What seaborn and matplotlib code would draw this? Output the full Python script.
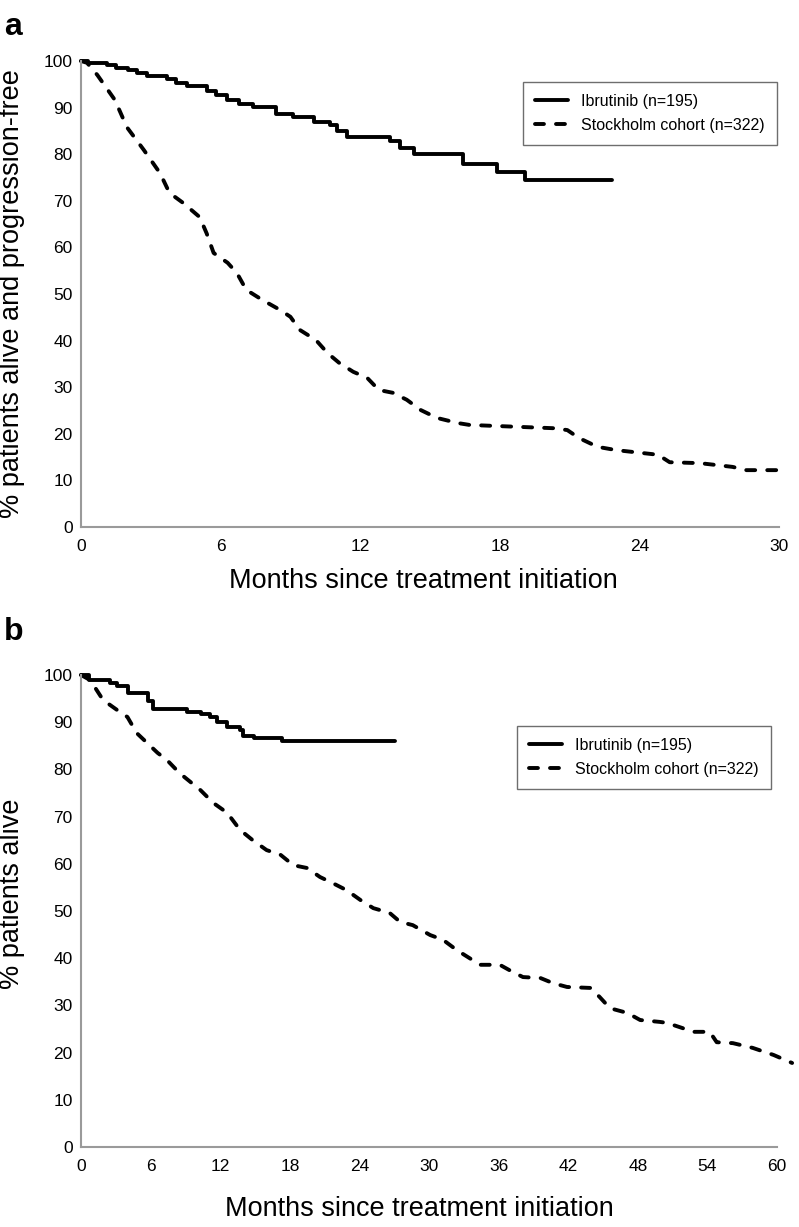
"""Kaplan-Meier style curves: ibrutinib vs Stockholm cohort (PFS and OS)."""

import matplotlib

matplotlib.use("Agg")
import matplotlib.pyplot as plt
import pandas as pd
import seaborn as sns

# panel a: progression-free survival (months, % patients)
IBR_A_T = [0, 0.32, 1.1, 1.5, 2.0, 2.4, 2.82, 3.68, 4.1, 4.54, 5.4, 5.8, 6.26, 6.8,
           7.4, 8.4, 9.1, 10.0, 10.7, 11.0, 11.42, 13.28, 13.71, 14.3, 16.4, 17.9,
           19.1, 22.8]
IBR_A_V = [100, 99.6, 99.1, 98.6, 98.0, 97.5, 96.8, 96.2, 95.3, 94.6, 93.6, 92.6,
           91.6, 90.8, 90.1, 88.6, 87.9, 87.0, 86.2, 85.0, 83.6, 82.9, 81.4, 80.0,
           78.0, 76.2, 74.5, 74.5]
STK_A_T = [0, 0.26, 0.7, 1.46, 1.97, 2.7, 3.4, 3.8, 4.4, 5.1, 5.4, 5.7, 6.3, 6.7,
           7.1, 7.8, 8.55, 9.0, 9.4, 10.1, 10.6, 11.1, 11.7, 12.3, 12.8, 13.4, 14.0,
           14.6, 15.3, 16.2, 16.7, 20.3, 20.9, 21.4, 22.2, 23.0, 24.8, 25.3, 26.6,
           28.0, 28.6, 30.3]
STK_A_V = [100, 99.6, 97.0, 91.6, 85.8, 80.9, 75.9, 71.7, 69.5, 66.5, 63.0, 58.8,
           56.7, 54.5, 50.9, 48.7, 46.6, 45.1, 42.3, 40.1, 37.3, 35.2, 33.3, 32.0,
           29.4, 28.8, 27.3, 25.1, 23.4, 22.3, 21.9, 21.2, 20.8, 19.1, 17.2, 16.5,
           15.5, 13.9, 13.7, 12.9, 12.2, 12.2]

# panel b: overall survival
IBR_B_T = [0, 0.65, 2.5, 3.07, 4.08, 5.8, 6.2, 9.1, 10.3, 11.1, 11.7, 12.6, 13.7,
           14.0, 14.9, 17.3, 27.1]
IBR_B_V = [100, 99.0, 98.2, 97.7, 96.1, 94.5, 92.7, 92.2, 91.7, 91.0, 90.1, 89.0,
           88.3, 87.1, 86.6, 86.1, 86.1]
STK_B_T = [0, 0.8, 1.9, 3.1, 4.0, 4.8, 5.7, 6.6, 7.4, 8.5, 10.3, 11.4, 12.6, 13.7,
           14.8, 16.0, 17.2, 18.3, 19.5, 20.6, 21.7, 22.9, 24.1, 25.2, 26.6, 27.5,
           28.6, 30.1, 31.2, 32.4, 33.5, 34.4, 36.1, 37.2, 38.1, 39.6, 40.7, 41.9,
           43.9, 44.7, 45.6, 47.1, 48.2, 49.9, 50.5, 51.6, 52.8, 54.2, 54.8, 56.2,
           57.9, 59.7, 61.3]
STK_B_V = [100, 98.9, 94.7, 92.6, 91.1, 87.7, 85.6, 83.5, 82.0, 79.2, 75.6, 72.9,
           70.8, 67.2, 65.0, 62.9, 61.9, 59.7, 59.1, 57.2, 55.9, 54.4, 52.3, 50.6,
           49.6, 47.7, 47.0, 44.9, 43.9, 41.7, 40.0, 38.6, 38.6, 37.1, 36.0, 35.8,
           34.7, 33.9, 33.7, 31.8, 29.4, 28.4, 26.9, 26.5, 26.3, 25.4, 24.4, 24.4,
           22.2, 22.0, 21.0, 19.5, 17.8]

LABEL_IBR = "Ibrutinib (n=195)"
LABEL_STK = "Stockholm cohort (n=322)"
XLABEL = "Months since treatment initiation"
YLABEL_A = "% patients alive and progression-free"
YLABEL_B = "% patients alive"
XTICKS_A = [0, 6, 12, 18, 24, 30]
XTICKS_B = [0, 6, 12, 18, 24, 30, 36, 42, 48, 54, 60]
YTICKS = list(range(0, 101, 10))

FONT = ["Liberation Sans", "DejaVu Sans"]
SPINE = "#9a9a9a"
LW = 2.8
DASH = (0, (2.3, 3.1))

sns.set_style("white")
plt.rcParams["font.family"] = FONT
plt.rcParams.update({
    "text.color": "black",
    "axes.labelcolor": "black",
    "xtick.color": "black",
    "ytick.color": "black",
})


def draw_panel(ax, ibr_t, ibr_v, stk_t, stk_v, xmax, xticks, ylabel, label_pos, legend_anchor):
    ibr = pd.DataFrame({"month": ibr_t, "pct": ibr_v})
    stk = pd.DataFrame({"month": stk_t, "pct": stk_v})
    sns.lineplot(data=ibr, x="month", y="pct", ax=ax, color="black", linewidth=LW,
                 drawstyle="steps-post", estimator=None, sort=False, label=LABEL_IBR,
                 clip_on=False, solid_capstyle="round")
    sns.lineplot(data=stk, x="month", y="pct", ax=ax, color="black", linewidth=LW,
                 linestyle=DASH, estimator=None, sort=False, label=LABEL_STK,
                 clip_on=False, dash_capstyle="round")

    ax.set_xlim(0, xmax)
    ax.set_ylim(0, 100)
    ax.set_xticks(xticks)
    ax.set_yticks(YTICKS)
    ax.tick_params(axis="both", length=0, labelsize=12.5)
    ax.tick_params(axis="x", pad=9)
    ax.tick_params(axis="y", pad=6)
    for side in ("top", "right"):
        ax.spines[side].set_visible(False)
    for side in ("left", "bottom"):
        ax.spines[side].set_color(SPINE)
        ax.spines[side].set_linewidth(1.5)

    ax.set_xlabel(XLABEL, fontsize=19.5)
    ax.set_ylabel(ylabel, fontsize=19.5)
    ax.xaxis.set_label_coords(label_pos[0], label_pos[1])
    ax.yaxis.set_label_coords(label_pos[2], label_pos[3])

    leg = ax.legend(loc="upper left", bbox_to_anchor=legend_anchor, frameon=True,
                    fancybox=False, framealpha=1, edgecolor="#6e6e6e", fontsize=11.5,
                    handlelength=2.1, handletextpad=0.8, borderpad=0.75,
                    labelspacing=0.55, borderaxespad=0)
    leg.get_frame().set_linewidth(1.0)


fig = plt.figure(figsize=(7.99, 12.27), dpi=100)
ax_a = fig.add_axes([0.1014, 0.5705, 0.8736, 0.3798])
ax_b = fig.add_axes([0.1014, 0.0652, 0.8711, 0.3847])

draw_panel(ax_a, IBR_A_T, IBR_A_V, STK_A_T, STK_A_V, 30, XTICKS_A, YLABEL_A,
           (0.49, -0.088, -0.080, 0.50), (0.633, 0.955))
draw_panel(ax_b, IBR_B_T, IBR_B_V, STK_B_T, STK_B_V, 60, XTICKS_B, YLABEL_B,
           (0.486, -0.104, -0.080, 0.536), (0.626, 0.892))

fig.text(0.005, 0.9715, "a", fontsize=23, fontweight="bold", va="baseline")
fig.text(0.005, 0.4784, "b", fontsize=23, fontweight="bold", va="baseline")

fig.savefig("out.png", dpi=100)
plt.close(fig)
